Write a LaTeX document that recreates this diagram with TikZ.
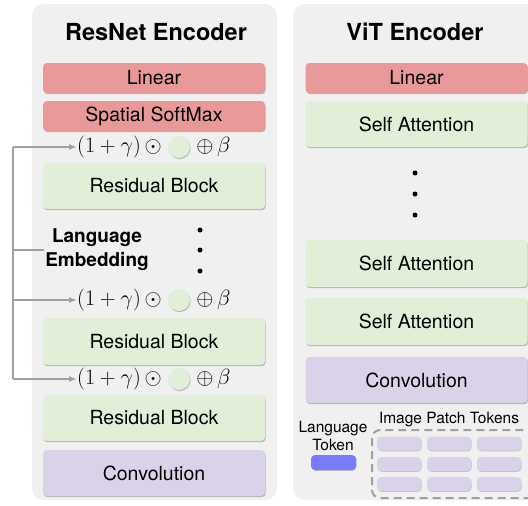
\documentclass[tikz,border=0pt]{standalone}
\usepackage{fontspec}
\setmainfont{TeX Gyre Heros}
\usepackage{graphicx}
\usepackage{tikz}
\usetikzlibrary{positioning, arrows.meta, shadows}

\definecolor{fundo}{RGB}{240,240,240}
\definecolor{vermelho}{RGB}{233,153,153}
\definecolor{verde}{RGB}{225,238,216}
\definecolor{roxo}{RGB}{217,210,233}
\definecolor{azul}{RGB}{122,122,255}
\definecolor{cinza}{RGB}{160,160,160}

\newcommand{\film}[1]{\scalebox{1.06}{$#1$}}

\tikzset{
  painel/.style={fill=fundo, draw=none, rounded corners=12pt},
  titulo/.style={font=\bfseries\fontsize{23.5}{27}\selectfont},
  bloco/.style={rounded corners=4pt, minimum width=222pt, inner sep=0pt,
    font=\fontsize{19.5}{22}\selectfont,
    drop shadow={shadow xshift=0.6pt, shadow yshift=-1.2pt, opacity=0.25, fill=black}},
  ponto/.style={circle, fill=black, minimum size=5pt, inner sep=0pt},
  formula/.style={inner sep=0pt, font=\fontsize{20}{24}\selectfont},
  bolinha/.style={circle, fill=verde, minimum size=22pt, inner sep=0pt,
    drop shadow={shadow xshift=0.6pt, shadow yshift=-1pt, opacity=0.25, fill=black}},
  linha/.style={draw=cinza, line width=1.6pt},
  seta/.style={linha, -{Latex[length=8pt, width=6pt]}},
  pequeno/.style={font=\fontsize{15.5}{18}\selectfont, inner sep=0pt, align=center},
  ficha/.style={rounded corners=4pt, fill=roxo, minimum width=44pt, minimum height=14pt, inner sep=0pt,
    drop shadow={shadow xshift=0.5pt, shadow yshift=-0.8pt, opacity=0.2, fill=black}},
}

\begin{document}
\begin{tikzpicture}[x=1pt, y=-1pt]

\useasboundingbox (0,0) rectangle (528,506);
\clip (0,0) rectangle (528,506);

% Painel ResNet
\fill[painel] (32,4) rectangle (277,500);
\node[titulo] (tituloA) at (156,32) {ResNet Encoder};

% Blocos do ResNet
\node[bloco, fill=vermelho, minimum height=30pt] (linA) at (154,78) {Linear};
\node[bloco, fill=vermelho, minimum height=30pt] (soft) at (154,116) {Spatial SoftMax};
\node[bloco, fill=verde, minimum height=46pt] (res1) at (154,186) {Residual Block};
\node[bloco, fill=verde, minimum height=47pt] (res2) at (154,341.5) {Residual Block};
\node[bloco, fill=verde, minimum height=46pt] (res3) at (154,418) {Residual Block};
\node[bloco, fill=roxo, minimum height=46pt] (convA) at (154,473) {Convolution};

% Modulacao FiLM
\node[bolinha] (g1) at (179,147) {};
\node[formula, left=6pt of g1] (fa1) {\film{(1+\gamma)\,\odot}};
\node[formula, right=6pt of g1] (fb1) {\film{\oplus\,\beta}};
\node[bolinha] (g2) at (179,300) {};
\node[formula, left=6pt of g2] (fa2) {\film{(1+\gamma)\,\odot}};
\node[formula, right=6pt of g2] (fb2) {\film{\oplus\,\beta}};
\node[bolinha] (g3) at (179,379) {};
\node[formula, left=6pt of g3] (fa3) {\film{(1+\gamma)\,\odot}};
\node[formula, right=6pt of g3] (fb3) {\film{\oplus\,\beta}};

% Reticencias
\node[ponto] (pa1) at (200,230) {};
\node[ponto] (pa2) at (200,250) {};
\node[ponto] (pa3) at (200,271) {};

% Embedding da linguagem
\node[font=\bfseries\fontsize{19}{24}\selectfont, align=center, inner sep=1pt] (emb) at (97,250) {Language\\Embedding};
\coordinate (e1) at (13,147);
\coordinate (e0) at (13,250);
\coordinate (e2) at (13,300);
\coordinate (e3) at (13,379);
\draw[linha] (e1) -- (e3);
\draw[linha] (e0) -- (emb.west);
\draw[seta] (e1) -- (fa1.west);
\draw[seta] (e2) -- (fa2.west);
\draw[seta] (e3) -- (fa3.west);

% Painel ViT
\fill[painel] (293,4) rectangle (540,500);
\node[titulo] (tituloB) at (415,32) {ViT Encoder};

% Blocos do ViT
\node[bloco, fill=vermelho, minimum height=30pt] (linB) at (416.5,78) {Linear};
\node[bloco, fill=verde, minimum height=46pt] (sa1) at (416.5,124) {Self Attention};
\node[bloco, fill=verde, minimum height=47pt] (sa2) at (416.5,263.5) {Self Attention};
\node[bloco, fill=verde, minimum height=47pt] (sa3) at (416.5,321.5) {Self Attention};
\node[bloco, fill=roxo, minimum height=46pt] (convB) at (416.5,380) {Convolution};

% Reticencias
\node[ponto] (pb1) at (415,173) {};
\node[ponto] (pb2) at (415,194) {};
\node[ponto] (pb3) at (415,215) {};

% Token de linguagem
\node[pequeno] (lang) at (333,436) {Language\\Token};
\node[ficha, fill=azul, minimum width=45pt, minimum height=15pt] (tok) at (333.5,462.5) {};

% Tokens dos patches
\node[pequeno] (patch) at (449,420) {Image Patch Tokens};
\draw[cinza, line width=2pt, dash pattern=on 8pt off 5pt, rounded corners=8pt] (372,430) rectangle (545,498);
\node[ficha] (p11) at (399,443.5) {};
\node[ficha] (p12) at (449,443.5) {};
\node[ficha] (p13) at (499,443.5) {};
\node[ficha] (p21) at (399,464) {};
\node[ficha] (p22) at (449,464) {};
\node[ficha] (p23) at (499,464) {};
\node[ficha] (p31) at (399,484) {};
\node[ficha] (p32) at (449,484) {};
\node[ficha] (p33) at (499,484) {};

\end{tikzpicture}
\end{document}
